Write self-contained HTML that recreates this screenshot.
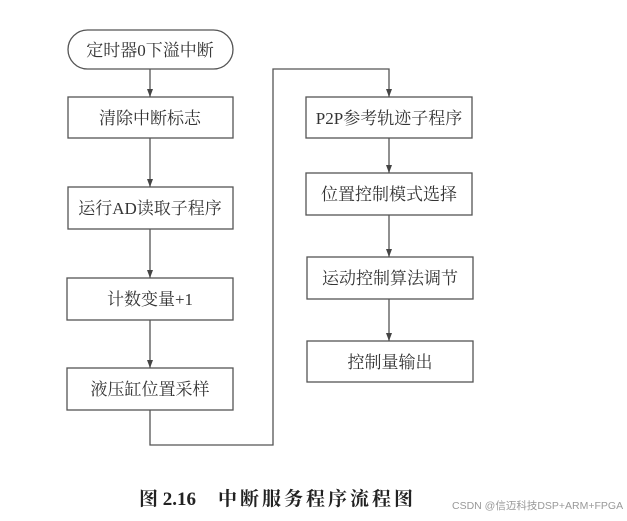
<!DOCTYPE html>
<html><head><meta charset="utf-8"><style>
html,body{margin:0;padding:0;background:#fff;}
</style></head><body>
<svg width="627" height="521" viewBox="0 0 627 521" xmlns="http://www.w3.org/2000/svg" style="display:block">
<defs><marker id="a" markerWidth="8" markerHeight="6" refX="8" refY="3" orient="auto" markerUnits="userSpaceOnUse"><path d="M0,0 L8,3 L0,6 z" fill="#444"/></marker></defs>
<g fill="none" stroke="#555" stroke-width="1.3">
<rect x="68" y="30" width="165" height="39" rx="19.5"/>
<rect x="68" y="97" width="165" height="41"/>
<rect x="68" y="187" width="165" height="42"/>
<rect x="67" y="278" width="166" height="42"/>
<rect x="67" y="368" width="166" height="42"/>
<rect x="306" y="97" width="166" height="41"/>
<rect x="306" y="173" width="166" height="42"/>
<rect x="307" y="257" width="166" height="42"/>
<rect x="307" y="341" width="166" height="41"/>
<line x1="150" y1="69" x2="150" y2="97" marker-end="url(#a)"/>
<line x1="150" y1="138" x2="150" y2="187" marker-end="url(#a)"/>
<line x1="150" y1="229" x2="150" y2="278" marker-end="url(#a)"/>
<line x1="150" y1="320" x2="150" y2="368" marker-end="url(#a)"/>
<polyline points="150,410 150,445 273,445 273,69 389,69 389,97" marker-end="url(#a)"/>
<line x1="389" y1="138" x2="389" y2="173" marker-end="url(#a)"/>
<line x1="389" y1="215" x2="389" y2="257" marker-end="url(#a)"/>
<line x1="389" y1="299" x2="389" y2="341" marker-end="url(#a)"/>
</g>
<g font-family="'Liberation Serif','Noto Serif CJK SC',serif" font-size="17" fill="#333" text-anchor="middle">
<text x="150" y="56">定时器0下溢中断</text>
<text x="150" y="124">清除中断标志</text>
<text x="150" y="214">运行AD读取子程序</text>
<text x="150" y="305">计数变量+1</text>
<text x="150" y="395">液压缸位置采样</text>
<text x="389" y="124">P2P参考轨迹子程序</text>
<text x="389" y="200">位置控制模式选择</text>
<text x="390" y="284">运动控制算法调节</text>
<text x="390" y="368">控制量输出</text>
</g>
<text x="139" y="505" font-family="'Liberation Serif','Noto Serif CJK SC',serif" font-size="19" font-weight="bold" fill="#222">图 2.16<tspan dx="22" letter-spacing="3">中断服务程序流程图</tspan></text>
<text x="452" y="509" font-family="'Liberation Sans','Noto Sans CJK SC',sans-serif" font-size="10.5" fill="#999">CSDN @信迈科技DSP+ARM+FPGA</text>
</svg>
</body></html>
